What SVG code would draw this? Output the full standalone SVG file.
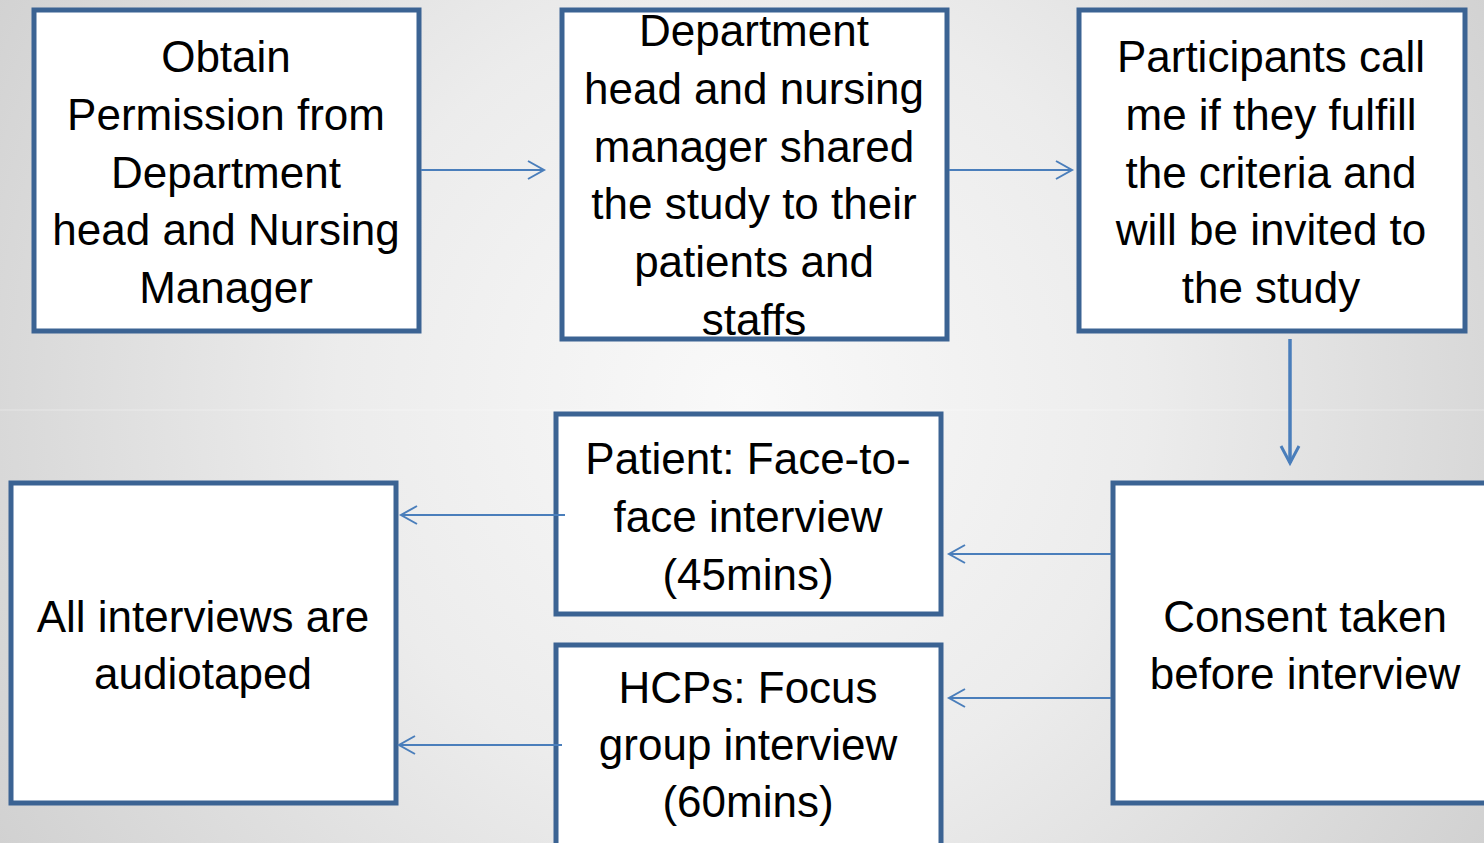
<svg xmlns="http://www.w3.org/2000/svg" width="1484" height="843" viewBox="0 0 1484 843">
<defs>
<radialGradient id="bg" cx="742" cy="400" r="900" gradientUnits="userSpaceOnUse">
<stop offset="0" stop-color="#f9f9f9"/>
<stop offset="0.45" stop-color="#ececec"/>
<stop offset="1" stop-color="#cfcfcf"/>
</radialGradient>
<marker id="arr" markerUnits="userSpaceOnUse" markerWidth="24" markerHeight="24" viewBox="-20 -12 24 24" refX="0" refY="0" orient="auto">
<path d="M-16,-9 L0,0 L-16,9" fill="none" stroke="#4a7ebb" stroke-width="2"/>
</marker>
<marker id="arrb" markerUnits="userSpaceOnUse" markerWidth="24" markerHeight="24" viewBox="-20 -12 24 24" refX="0" refY="0" orient="auto">
<path d="M-17,-9 L0,0 L-17,9" fill="none" stroke="#4a7ebb" stroke-width="3"/>
</marker>
</defs>
<style>
.box{fill:#ffffff;stroke:#3b6393;stroke-width:5;}
.t{font-family:"Liberation Sans",Arial,sans-serif;font-size:44px;fill:#000;text-anchor:middle;}
.c{stroke:#4a7ebb;stroke-width:2;fill:none;marker-end:url(#arr);}
.cb{stroke:#4a7ebb;stroke-width:3.5;fill:none;marker-end:url(#arrb);}
</style>
<rect x="0" y="0" width="1484" height="843" fill="url(#bg)"/>
<line x1="0" y1="410" x2="1484" y2="410" stroke="#ffffff" stroke-opacity="0.35" stroke-width="1"/>

<g id="node-obtain">
<rect class="box" x="34" y="10" width="385" height="321"/>
<text class="t"><tspan x="226" y="72">Obtain</tspan><tspan x="226" y="130">Permission from</tspan><tspan x="226" y="188">Department</tspan><tspan x="226" y="245">head and Nursing</tspan><tspan x="226" y="303">Manager</tspan></text>
</g>
<g id="node-shared">
<rect class="box" x="562" y="10" width="385" height="329"/>
<text class="t"><tspan x="754" y="46">Department</tspan><tspan x="754" y="104">head and nursing</tspan><tspan x="754" y="162">manager shared</tspan><tspan x="754" y="219">the study to their</tspan><tspan x="754" y="277">patients and</tspan><tspan x="754" y="335">staffs</tspan></text>
</g>
<g id="node-participants">
<rect class="box" x="1079" y="10" width="386" height="321"/>
<text class="t"><tspan x="1271" y="72">Participants call</tspan><tspan x="1271" y="130">me if they fulfill</tspan><tspan x="1271" y="188">the criteria and</tspan><tspan x="1271" y="245">will be invited to</tspan><tspan x="1271" y="303">the study</tspan></text>
</g>
<g id="node-consent">
<rect class="box" x="1113" y="483" width="384" height="320"/>
<text class="t"><tspan x="1305" y="632">Consent taken</tspan><tspan x="1305" y="689">before interview</tspan></text>
</g>
<g id="node-patient">
<rect class="box" x="556" y="414" width="385" height="200"/>
<text class="t"><tspan x="748" y="474">Patient: Face-to-</tspan><tspan x="748" y="532">face interview</tspan><tspan x="748" y="590">(45mins)</tspan></text>
</g>
<g id="node-hcps">
<rect class="box" x="556" y="645" width="385" height="220"/>
<text class="t"><tspan x="748" y="703">HCPs: Focus</tspan><tspan x="748" y="760">group interview</tspan><tspan x="748" y="817">(60mins)</tspan></text>
</g>
<g id="node-audiotaped">
<rect class="box" x="11" y="483" width="385" height="320"/>
<text class="t"><tspan x="203" y="632">All interviews are</tspan><tspan x="203" y="689">audiotaped</tspan></text>
</g>

<g id="connectors">
<line class="c" x1="421" y1="170" x2="544" y2="170"/>
<line class="c" x1="949" y1="170" x2="1072" y2="170"/>
<line class="cb" x1="1290" y1="339" x2="1290" y2="463"/>
<line class="c" x1="1111" y1="554" x2="949" y2="554"/>
<line class="c" x1="1111" y1="698" x2="949" y2="698"/>
<line class="c" x1="565" y1="515" x2="401" y2="515"/>
<line class="c" x1="562" y1="745" x2="399" y2="745"/>
</g>
</svg>
